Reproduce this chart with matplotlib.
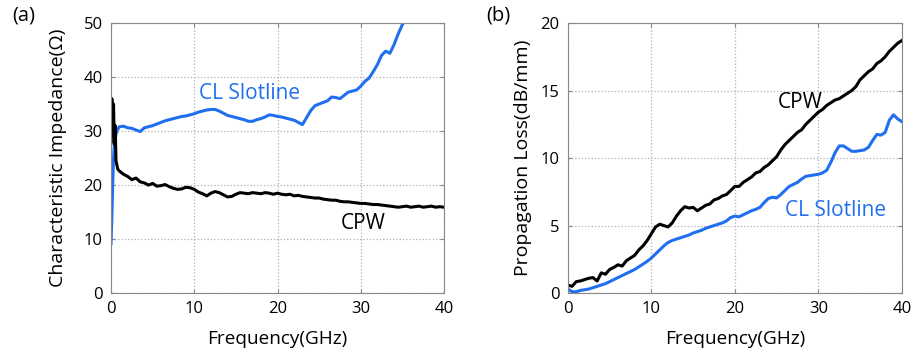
import matplotlib
matplotlib.use('Agg')
import matplotlib.pyplot as plt

plt.rcParams['font.family'] = ['Open Sans', 'DejaVu Sans']

# frequency grid (GHz)
freq = [1.0, 1.5, 2.0, 2.5, 3.0, 3.5, 4.0, 4.5, 5.0, 5.5, 6.0, 6.5, 7.0, 7.5, 8.0, 8.5,
        9.0, 9.5, 10.0, 10.5, 11.0, 11.5, 12.0, 12.5, 13.0, 13.5, 14.0, 14.5, 15.0, 15.5,
        16.0, 16.5, 17.0, 17.5, 18.0, 18.5, 19.0, 19.5, 20.0, 20.5, 21.0, 21.5, 22.0, 22.5,
        23.0, 23.5, 24.0, 24.5, 25.0, 25.5, 26.0, 26.5, 27.0, 27.5, 28.0, 28.5, 29.0, 29.5,
        30.0, 30.5, 31.0, 31.5, 32.0, 32.5, 33.0, 33.5, 34.0, 34.5, 35.0, 35.5, 36.0, 36.5,
        37.0, 37.5, 38.0, 38.5, 39.0, 39.5, 40.0]
freq_lo = [0.0, 0.1, 0.2, 0.3, 0.4, 0.5, 0.6, 0.8]
freq_loss = [0.0, 0.5] + freq

# (a) characteristic impedance
z_cpw_lo = [28.0, 36.0, 29.5, 35.0, 27.5, 31.0, 24.5, 23.0]
z_cpw = [22.6, 22.0, 21.6, 21.0, 21.3, 20.6, 20.4, 20.0, 20.3, 19.8, 19.9, 20.1, 19.7, 19.4,
         19.2, 19.3, 19.6, 19.5, 19.2, 18.7, 18.4, 18.0, 18.5, 18.8, 18.6, 18.2, 17.8, 17.9,
         18.3, 18.6, 18.5, 18.4, 18.6, 18.5, 18.4, 18.6, 18.5, 18.3, 18.5, 18.3, 18.2, 18.3,
         18.0, 18.1, 17.9, 17.8, 17.7, 17.6, 17.6, 17.4, 17.3, 17.2, 17.2, 17.0, 16.9, 16.9,
         16.8, 16.7, 16.6, 16.6, 16.5, 16.4, 16.4, 16.3, 16.2, 16.1, 16.0, 15.9, 16.0, 16.1,
         15.9, 16.0, 16.1, 15.9, 16.0, 16.1, 15.9, 16.0, 15.9]
z_cl_lo = [9.2, 14.0, 20.0, 25.0, 27.5, 28.5, 29.5, 30.3]
z_cl = [30.8, 30.9, 30.6, 30.5, 30.2, 29.9, 30.6, 30.8, 31.0, 31.3, 31.6, 31.9, 32.1, 32.3,
        32.5, 32.7, 32.8, 33.0, 33.2, 33.5, 33.7, 33.9, 34.0, 34.0, 33.7, 33.3, 32.9, 32.7,
        32.5, 32.3, 32.1, 31.8, 31.8, 32.1, 32.3, 32.6, 33.0, 32.9, 32.7, 32.6, 32.4, 32.2,
        32.0, 31.6, 31.2, 32.5, 33.8, 34.7, 35.0, 35.3, 35.6, 36.3, 36.2, 36.0, 36.6, 37.2,
        37.4, 37.6, 38.3, 39.2, 39.8, 41.0, 42.3, 44.0, 44.8, 44.4, 46.0, 48.0, 49.7, 51.0]

# (b) propagation loss
loss_cpw = [0.6, 0.5, 0.85, 0.9, 1.0, 1.1, 1.15, 0.9, 1.5, 1.4, 1.75, 1.9, 2.1, 2.0, 2.4, 2.6,
            2.8, 3.2, 3.5, 3.9, 4.4, 4.9, 5.1, 5.0, 4.9, 5.2, 5.7, 6.1, 6.4, 6.3, 6.35, 6.1,
            6.3, 6.5, 6.6, 6.9, 7.0, 7.2, 7.3, 7.6, 7.9, 7.9, 8.2, 8.4, 8.6, 8.9, 9.0, 9.3,
            9.5, 9.8, 10.1, 10.6, 11.0, 11.3, 11.6, 11.9, 12.1, 12.5, 12.8, 13.1, 13.4, 13.6,
            13.9, 14.1, 14.3, 14.4, 14.6, 14.8, 15.0, 15.3, 15.8, 16.1, 16.4, 16.6, 17.0,
            17.2, 17.5, 17.9, 18.2, 18.5, 18.7]
loss_cl = [0.3, 0.1, 0.1, 0.2, 0.25, 0.3, 0.4, 0.5, 0.6, 0.7, 0.85, 1.0, 1.15, 1.3, 1.45, 1.6,
           1.75, 1.95, 2.15, 2.35, 2.6, 2.9, 3.2, 3.5, 3.75, 3.9, 4.0, 4.1, 4.2, 4.3, 4.45,
           4.55, 4.65, 4.8, 4.9, 5.0, 5.1, 5.2, 5.35, 5.6, 5.7, 5.65, 5.8, 5.95, 6.1, 6.2,
           6.35, 6.7, 7.0, 7.1, 7.05, 7.3, 7.6, 7.9, 8.05, 8.2, 8.45, 8.65, 8.7, 8.75, 8.8,
           8.9, 9.1, 9.7, 10.4, 10.9, 10.9, 10.7, 10.5, 10.5, 10.55, 10.6, 10.8, 11.3, 11.75,
           11.7, 11.9, 12.8, 13.2, 12.9, 12.7]

blue = '#1f6ff0'

fig = plt.figure(figsize=(9.13, 3.54), dpi=100)
ax1 = fig.add_axes([0.1216, 0.172, 0.3647, 0.763])
ax2 = fig.add_axes([0.622, 0.172, 0.3658, 0.763])

ax1.plot(freq_lo + freq[:len(z_cl)], z_cl_lo + z_cl, color=blue, lw=2.2)
ax1.plot(freq_lo + freq, z_cpw_lo + z_cpw, color='black', lw=2.2)
ax1.set_ylim(0, 50)
ax1.set_yticks([0, 10, 20, 30, 40, 50])
ax1.set_ylabel('Characteristic Impedance(Ω)', fontsize=14, labelpad=12)
ax1.text(16.7, 37, 'CL Slotline', color=blue, fontsize=15, ha='center', va='center')
ax1.text(30.3, 12.8, 'CPW', color='black', fontsize=15, ha='center', va='center')

ax2.plot(freq_loss, loss_cpw, color='black', lw=2.2)
ax2.plot(freq_loss, loss_cl, color=blue, lw=2.2)
ax2.set_ylim(0, 20)
ax2.set_yticks([0, 5, 10, 15, 20])
ax2.set_ylabel('Propagation Loss(dB/mm)', fontsize=14, labelpad=6)
ax2.text(27.8, 14.1, 'CPW', color='black', fontsize=15, ha='center', va='center')
ax2.text(32.0, 6.1, 'CL Slotline', color=blue, fontsize=15, ha='center', va='center')

for ax in (ax1, ax2):
    ax.set_xlim(0, 40)
    ax.set_xticks([0, 10, 20, 30, 40])
    ax.set_xlabel('Frequency(GHz)', fontsize=13.7, labelpad=9)
    ax.grid(True, linestyle=':', color='#b0b0b0', lw=0.9)
    ax.tick_params(direction='in', length=3, labelsize=12, top=True, right=True,
                   color='#888888', pad=6)
    for s in ax.spines.values():
        s.set_color('#888888')

fig.text(0.013, 0.957, '(a)', fontsize=14.5, va='center')
fig.text(0.533, 0.957, '(b)', fontsize=14.5, va='center')

fig.savefig('out.png', dpi=100)
